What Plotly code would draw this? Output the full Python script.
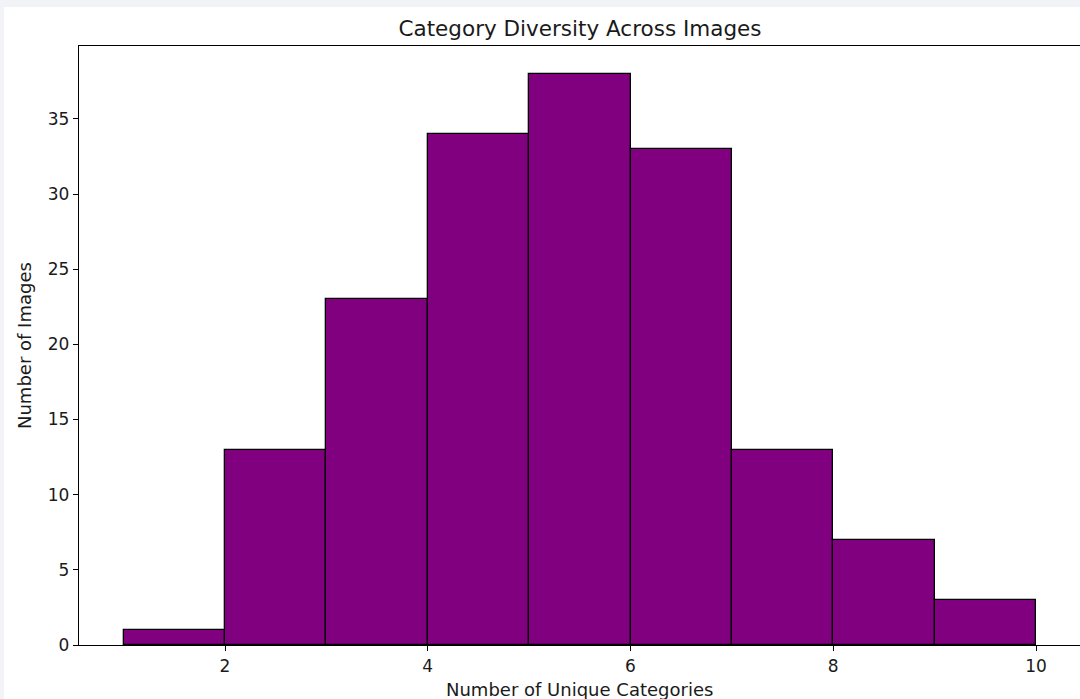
import plotly.graph_objects as go

bin_edges = [1, 2, 3, 4, 5, 6, 7, 8, 9, 10]
counts = [1, 13, 23, 34, 38, 33, 13, 7, 3]
x_ticks = [2, 4, 6, 8, 10]
y_ticks = [0, 5, 10, 15, 20, 25, 30, 35]

centers = [(bin_edges[i] + bin_edges[i + 1]) / 2 for i in range(len(counts))]
widths = [bin_edges[i + 1] - bin_edges[i] for i in range(len(counts))]

W, H = 1080, 699
L, R, T, B = 79, 0, 46, 54
pw, ph = W - L - R, H - T - B

fig = go.Figure(go.Bar(
    x=centers, y=counts, width=widths,
    marker=dict(color="#800080", line=dict(color="black", width=1.3)),
    hoverinfo="x+y",
))

font = "DejaVu Sans, Liberation Sans, sans-serif"
txt = "#1a1a1a"

def px_x(p):
    return (p - L) / pw

def px_y(p):
    return (H - B - p) / ph

fig.update_layout(
    width=W, height=H,
    margin=dict(l=L, r=R, t=T, b=B),
    paper_bgcolor="#f2f3f7",
    plot_bgcolor="white",
    showlegend=False,
    bargap=0,
    font=dict(family=font, color=txt, size=17),
    title=dict(text="Category Diversity Across Images", x=580 / W, xanchor="center",
               y=1 - 28 / H, yanchor="middle", yref="container",
               font=dict(size=21.5, family=font, color=txt)),
    shapes=[dict(type="rect", xref="paper", yref="paper", layer="below",
                 x0=px_x(4), x1=px_x(W + 5), y0=px_y(7), y1=px_y(H + 5),
                 fillcolor="white", line=dict(width=0))],
    annotations=[
        dict(text="Number of Unique Categories", xref="paper", yref="paper",
             x=px_x(579), y=px_y(689), xanchor="center", yanchor="middle",
             showarrow=False, font=dict(size=18, family=font, color=txt)),
        dict(text="Number of Images", xref="paper", yref="paper",
             x=px_x(24), y=px_y(346), xanchor="center", yanchor="middle",
             textangle=-90, showarrow=False, font=dict(size=18, family=font, color=txt)),
    ],
)

fig.update_xaxes(
    range=[2 - (225 - L) / 101.375, 10 + (W - 1036) / 101.375],
    tickvals=x_ticks, ticks="outside", ticklen=5, tickwidth=1.3, tickcolor="black",
    showline=True, linecolor="black", linewidth=1.3, mirror=True,
    showgrid=False, zeroline=False,
)
fig.update_yaxes(
    range=[0, 39.85],
    tickvals=y_ticks, ticks="outside", ticklen=5, tickwidth=1.3, tickcolor="black",
    showline=True, linecolor="black", linewidth=1.3, mirror=False,
    showgrid=False, zeroline=False,
)

fig.write_html("out.html", config={"displayModeBar": False},
               post_script="document.body.style.margin='0';document.body.style.overflow='hidden';")
